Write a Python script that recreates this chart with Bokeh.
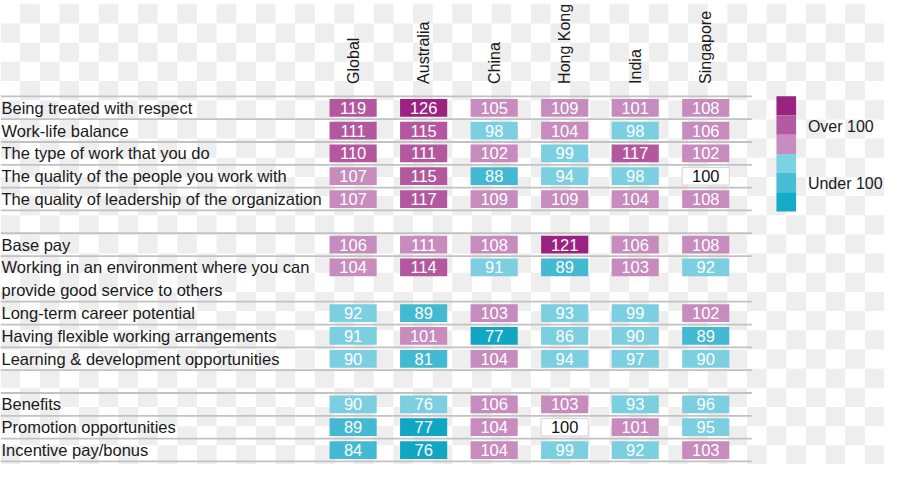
import numpy as np
from bokeh.plotting import figure
from bokeh.models import Range1d, ColumnDataSource
from bokeh.core.properties import value
from bokeh.embed import file_html
from bokeh.resources import INLINE

# ---------------- data ----------------
countries = ["Global", "Australia", "China", "Hong Kong", "India", "Singapore"]

row_labels = [
    "Being treated with respect",
    "Work-life balance",
    "The type of work that you do",
    "The quality of the people you work with",
    "The quality of leadership of the organization",
    "Base pay",
    "Working in an environment where you can\nprovide good service to others",
    "Long-term career potential",
    "Having flexible working arrangements",
    "Learning & development opportunities",
    "Benefits",
    "Promotion opportunities",
    "Incentive pay/bonus",
]
group_sizes = [5, 5, 3]

global_vals    = [119, 111, 110, 107, 107, 106, 104, 92, 91, 90, 90, 89, 84]
australia_vals = [126, 115, 111, 115, 117, 111, 114, 89, 101, 81, 76, 77, 76]
china_vals     = [105, 98, 102, 88, 109, 108, 91, 103, 77, 104, 106, 104, 104]
hongkong_vals  = [109, 104, 99, 94, 109, 121, 89, 93, 86, 94, 103, 100, 99]
india_vals     = [101, 98, 117, 98, 104, 106, 103, 99, 90, 97, 93, 101, 92]
singapore_vals = [108, 106, 102, 100, 108, 108, 92, 102, 89, 90, 96, 95, 103]

# shade level of each cell (+3 darkest magenta ... -3 darkest cyan)
global_shade    = [2, 2, 2, 1, 1, 1, 1, -1, -1, -1, -1, -2, -2]
australia_shade = [3, 2, 2, 2, 2, 1, 2, -2, 1, -2, -1, -3, -3]
china_shade     = [1, -1, 1, -2, 1, 1, -1, 1, -3, 1, 1, 1, 1]
hongkong_shade  = [1, 1, -1, -1, 1, 3, -2, -1, -1, -1, 1, 0, -1]
india_shade     = [1, -1, 2, -1, 1, 1, 1, -1, -1, -1, -1, 1, -1]
singapore_shade = [1, 1, 1, 0, 1, 1, -1, 1, -2, -1, -1, -1, 1]

legend_labels = ["Over 100", "Under 100"]
legend_levels = [3, 2, 1, -1, -2, -3]

all_vals = [global_vals, australia_vals, china_vals, hongkong_vals, india_vals, singapore_vals]
all_shades = [global_shade, australia_shade, china_shade, hongkong_shade, india_shade, singapore_shade]

# ---------------- styling / layout ----------------
FONT = value("Liberation Sans")
shade_colors = {3: "#9c2282", 2: "#b3589f", 1: "#c78bbd", 0: "#ffffff",
                -1: "#7bcfe0", -2: "#43b9d2", -3: "#11a6c3"}
legend_colors = {3: "#9a2380", 2: "#b45aa2", 1: "#c98cc0",
                 -1: "#7dd2e2", -2: "#48bdd5", -3: "#15aac8"}
TOP = 96.0
ROW_H = 23.8
COL_X0 = 359.0
COL_DX = 71.8
BOX_W = 48.0
BOX_H = 18.5
LINE_END = 765.0
HEADER_BOTTOM = 83.0
LEG_X0, LEG_X1 = 790.0, 810.0
LEG_H = 20.0

p = figure(width=884, height=464, x_range=Range1d(0, 900), y_range=Range1d(480, -4),
           output_backend="svg", toolbar_location=None, x_axis_type=None, y_axis_type=None,
           min_border=0)
p.grid.visible = False
p.outline_line_color = None
p.background_fill_color = "#ffffff"
p.border_fill_color = "#ffffff"

# checkerboard background (transparency pattern of the source image)
cl, cr, ct, cb = [], [], [], []
for i in range(45):
    for j in range(24):
        if (i + j) % 2 == 1:
            cl.append(i * 20); cr.append(i * 20 + 20)
            ct.append(j * 20); cb.append(j * 20 + 20)
p.quad(left=cl, right=cr, top=ct, bottom=cb, fill_color="#eeeeee", line_color=None)

# slot layout
row_slot = []
boundaries = [0]
s = 0
r = 0
for gi, n in enumerate(group_sizes):
    if gi > 0:
        s += 1
        boundaries.append(s)
    for _ in range(n):
        nlines = row_labels[r].count("\n") + 1
        row_slot.append(s)
        s += nlines
        boundaries.append(s)
        r += 1

# separator lines
ly = [TOP + ROW_H * b for b in boundaries]
p.segment(x0=[0] * len(ly), x1=[LINE_END] * len(ly), y0=ly, y1=ly,
          line_color="#c2c2c2", line_width=1.8)

# row labels
tx, ty, tt = [], [], []
for ri, lab in enumerate(row_labels):
    for k, line in enumerate(lab.split("\n")):
        tx.append(1)
        ty.append(TOP + ROW_H * (row_slot[ri] + k + 0.5))
        tt.append(line)
p.text(x=tx, y=ty, text=tt, text_font=FONT, text_font_size="16.5px",
       text_color="#1a1a1a", text_baseline="middle", text_align="left")

# column headers
hx = [COL_X0 + c * COL_DX for c in range(len(countries))]
p.text(x=hx, y=[HEADER_BOTTOM] * len(countries), text=countries, angle=np.pi / 2,
       text_font=FONT, text_font_size="16px", text_color="#1a1a1a",
       text_baseline="middle", text_align="left")

# cells
xs, ys, fills, lines, vals, tcols = [], [], [], [], [], []
for c, (vs, sh) in enumerate(zip(all_vals, all_shades)):
    for ri, (v, lvl) in enumerate(zip(vs, sh)):
        xs.append(COL_X0 + c * COL_DX)
        ys.append(TOP + ROW_H * (row_slot[ri] + 0.5))
        fills.append(shade_colors[lvl])
        lines.append("#d4d4d4" if lvl == 0 else None)
        vals.append(str(v))
        tcols.append("#111111" if lvl == 0 else "#ffffff")
src = ColumnDataSource(dict(x=xs, y=ys, fill=fills, line=lines, val=vals, tcol=tcols))
p.rect(x="x", y="y", width=BOX_W, height=BOX_H, fill_color="fill", line_color="line",
       line_width=1, source=src)
p.text(x="x", y="y", text="val", text_color="tcol", text_font=FONT, text_font_size="16.5px",
       text_align="center", text_baseline="middle", source=src)

# legend colour bar
lb = [TOP + LEG_H * k for k in range(len(legend_levels))]
p.quad(left=[LEG_X0] * len(lb), right=[LEG_X1] * len(lb), top=lb,
       bottom=[b + LEG_H for b in lb], fill_color=[legend_colors[l] for l in legend_levels],
       line_color=None)
p.text(x=[822, 822], y=[TOP + LEG_H * 1.55, TOP + LEG_H * 4.55], text=legend_labels,
       text_font=FONT, text_font_size="16px", text_color="#1a1a1a",
       text_baseline="middle", text_align="left")

open("out.html", "w").write(file_html(p, INLINE))
